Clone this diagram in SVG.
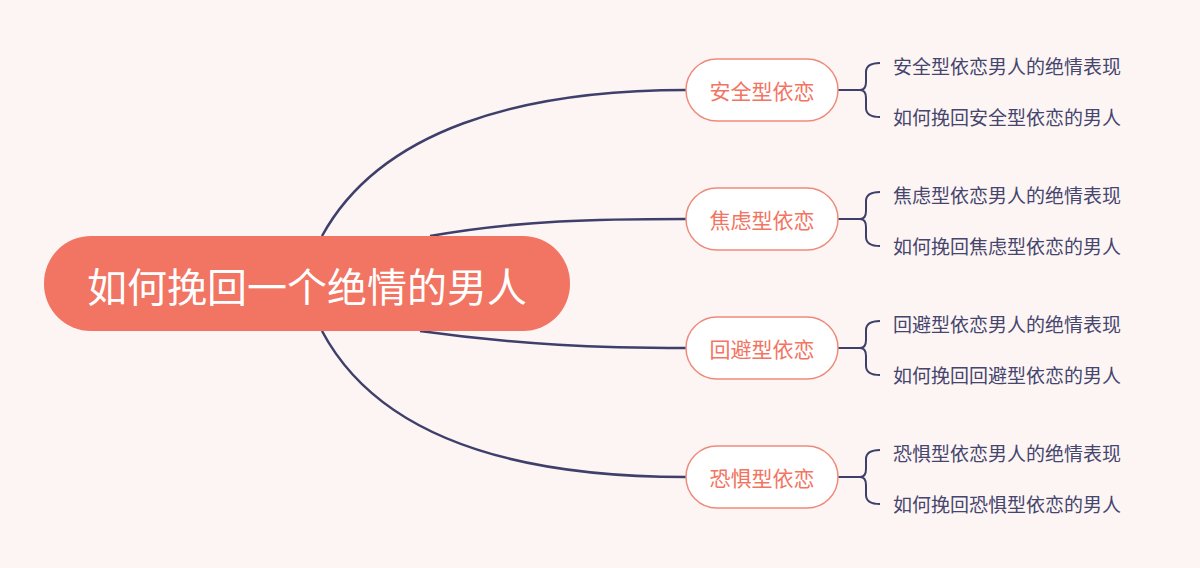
<svg xmlns="http://www.w3.org/2000/svg" width="1200" height="568" viewBox="0 0 1200 568">
<style>
.c{fill:none;stroke:#3f3f6b;stroke-width:2.5}
.b{fill:none;stroke:#3f3f6b;stroke-width:2}
.n rect{fill:#fff;stroke:#ef8a7b;stroke-width:1.5}
.n text{fill:#f27462;font-size:21px;font-family:"Noto Sans CJK SC",sans-serif;text-anchor:middle;dominant-baseline:central}
.l{fill:#45456e;font-size:19px;font-family:"Noto Sans CJK SC",sans-serif;dominant-baseline:central}
</style>
<rect width="1200" height="568" fill="#fdf5f3"/>
<g id="connectors">
<path class="c" d="M322,236 C380,130 520,90 686,90"/>
<path class="c" d="M430,236 C520,220 600,219 686,219"/>
<path class="c" d="M420,331 C520,345 600,348 686,348"/>
<path class="c" d="M322,331 C380,440 520,477 686,477"/>
<g class="b">
<path d="M838,90 H862 M880,63 Q866,63 866,72 V82 Q866,90 860,90 Q866,90 866,98 V108 Q866,117 880,117"/>
<path d="M838,219 H862 M880,192 Q866,192 866,201 V211 Q866,219 860,219 Q866,219 866,227 V237 Q866,246 880,246"/>
<path d="M838,348 H862 M880,321 Q866,321 866,330 V340 Q866,348 860,348 Q866,348 866,356 V366 Q866,375 880,375"/>
<path d="M838,477 H862 M880,450 Q866,450 866,459 V469 Q866,477 860,477 Q866,477 866,485 V495 Q866,504 880,504"/>
</g>
</g>
<g id="root">
<rect x="44" y="236" width="526" height="95" rx="47" fill="#f27462"/>
<text x="307" y="285" fill="#fff" font-size="40" font-family="Noto Sans CJK SC,sans-serif" text-anchor="middle" dominant-baseline="central">如何挽回一个绝情的男人</text>
</g>
<g id="n1" class="n"><rect x="686" y="59" width="152" height="62" rx="31"/><text x="762" y="90">安全型依恋</text></g>
<g id="n2" class="n"><rect x="686" y="188" width="152" height="62" rx="31"/><text x="762" y="219">焦虑型依恋</text></g>
<g id="n3" class="n"><rect x="686" y="317" width="152" height="62" rx="31"/><text x="762" y="348">回避型依恋</text></g>
<g id="n4" class="n"><rect x="686" y="446" width="152" height="62" rx="31"/><text x="762" y="477">恐惧型依恋</text></g>
<g id="leaves">
<text class="l" x="893" y="65">安全型依恋男人的绝情表现</text>
<text class="l" x="893" y="116">如何挽回安全型依恋的男人</text>
<text class="l" x="893" y="194">焦虑型依恋男人的绝情表现</text>
<text class="l" x="893" y="245">如何挽回焦虑型依恋的男人</text>
<text class="l" x="893" y="323">回避型依恋男人的绝情表现</text>
<text class="l" x="893" y="374">如何挽回回避型依恋的男人</text>
<text class="l" x="893" y="452">恐惧型依恋男人的绝情表现</text>
<text class="l" x="893" y="503">如何挽回恐惧型依恋的男人</text>
</g>
</svg>
